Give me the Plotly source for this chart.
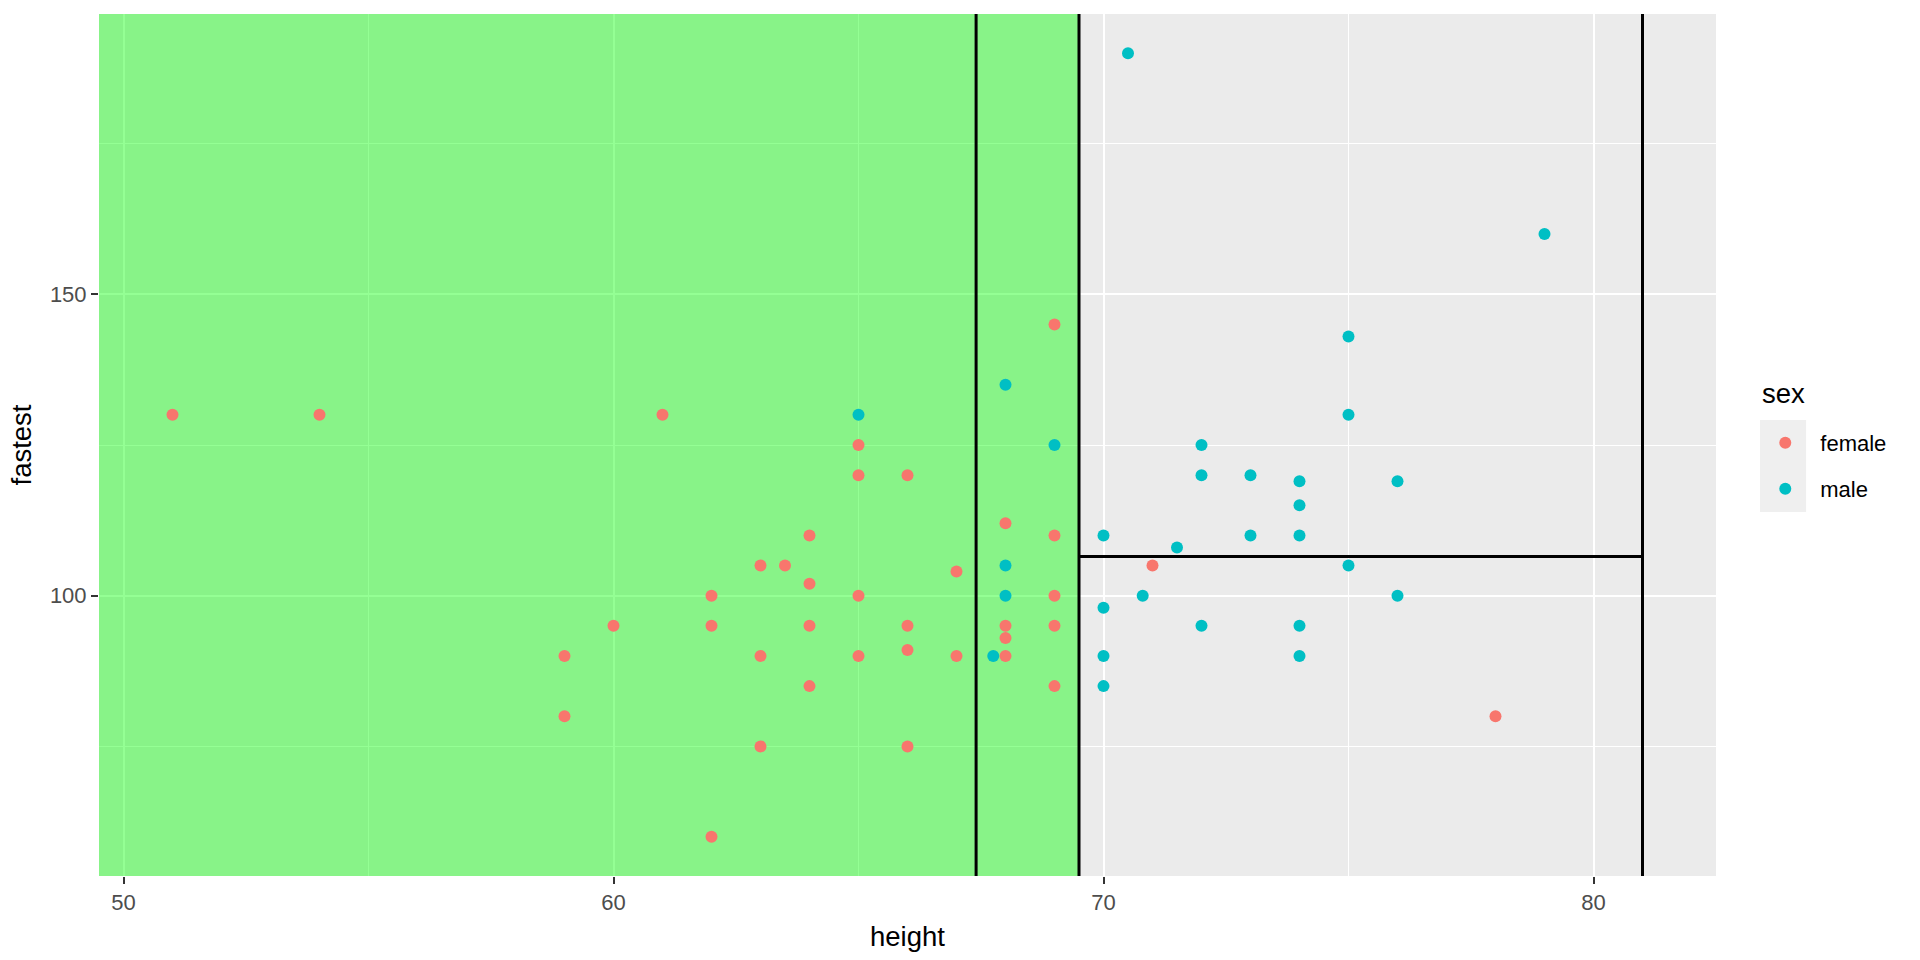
import plotly.graph_objects as go

# ---- data ----
female_height = [51, 54, 61, 69, 65, 65, 66, 68, 64, 69, 63, 63.5, 64, 67, 62, 65, 69, 71,
                 60, 62, 64, 66, 68, 69, 68, 59, 63, 65, 66, 67, 68, 59, 64, 69, 63, 66, 62, 78]
female_fastest = [130, 130, 130, 145, 125, 120, 120, 112, 110, 110, 105, 105, 102, 104, 100, 100, 100, 105,
                  95, 95, 95, 95, 95, 95, 93, 90, 90, 90, 91, 90, 90, 80, 85, 85, 75, 75, 60, 80]
male_height = [65, 68, 69, 68, 68, 67.75, 70.5, 79, 75, 75, 72, 72, 73, 74, 76, 74, 70, 73, 74,
               71.5, 75, 70.8, 76, 70, 72, 74, 70, 74, 70]
male_fastest = [130, 135, 125, 105, 100, 90, 190, 160, 143, 130, 125, 120, 120, 119, 119, 115, 110, 110, 110,
                108, 105, 100, 100, 98, 95, 95, 90, 90, 85]

# partition lines
vsplit_x = [67.4, 69.5, 81.0]
hsplit_y = 106.5
hsplit_x = [69.5, 81.0]
shade_xmax = 69.5

x_range = [49.5, 82.5]
y_range = [53.5, 196.5]

FONT = "Liberation Sans, Arial, Helvetica, sans-serif"
RED = "#F8766D"
TEAL = "#00BFC4"

fig = go.Figure()

# shaded region (drawn as a filled trace so gridlines show faintly through)
fig.add_trace(go.Scatter(
    x=[x_range[0], shade_xmax, shade_xmax, x_range[0], x_range[0]],
    y=[y_range[0], y_range[0], y_range[1], y_range[1], y_range[0]],
    mode="lines", fill="toself", fillcolor="rgba(0,255,0,0.42)",
    line=dict(width=0), hoverinfo="skip", showlegend=False))

# vertical split lines
for vx in vsplit_x:
    fig.add_trace(go.Scatter(x=[vx, vx], y=y_range, mode="lines",
                             line=dict(color="black", width=3), hoverinfo="skip", showlegend=False))
# horizontal split segment
fig.add_trace(go.Scatter(x=hsplit_x, y=[hsplit_y, hsplit_y], mode="lines",
                         line=dict(color="black", width=3), hoverinfo="skip", showlegend=False))

fig.add_trace(go.Scatter(x=female_height, y=female_fastest, mode="markers", name="female",
                         marker=dict(color=RED, size=12, line=dict(width=0)),
                         legend="legend"))
fig.add_trace(go.Scatter(x=male_height, y=male_fastest, mode="markers", name="male",
                         marker=dict(color=TEAL, size=12, line=dict(width=0)),
                         legend="legend2"))

shapes = [dict(type="rect", xref="paper", yref="paper", x0=1.0272, x1=1.0557, y0=0.4223, y1=0.529,
               fillcolor="#EFEFEF", line=dict(width=0), layer="above")]

fig.update_layout(
    width=1920, height=960,
    margin=dict(l=99, r=204, t=14, b=84),
    paper_bgcolor="white",
    plot_bgcolor="#EBEBEB",
    font=dict(family=FONT, color="black"),
    shapes=shapes,
    showlegend=True,
    legend=dict(x=1.0212, xanchor="left", y=0.5023, yanchor="middle", bgcolor="rgba(0,0,0,0)",
                font=dict(size=22, color="black"), itemwidth=60),
    legend2=dict(x=1.0212, xanchor="left", y=0.449, yanchor="middle", bgcolor="rgba(0,0,0,0)",
                 font=dict(size=22, color="black"), itemwidth=60),
    annotations=[dict(text="sex", xref="paper", yref="paper", x=1.0272, y=0.5603, xanchor="left",
                      yanchor="middle", showarrow=False, font=dict(size=27.5, color="black", family=FONT))],
)

fig.update_xaxes(
    range=x_range, tick0=0, dtick=10, showgrid=True, gridcolor="white", gridwidth=2.2,
    minor=dict(tick0=0, dtick=5, showgrid=True, gridcolor="white", gridwidth=1.1),
    ticks="outside", ticklen=7, tickwidth=2, tickcolor="#333333",
    tickfont=dict(size=22, color="#4D4D4D", family=FONT),
    zeroline=False, showline=False,
    title=dict(text="height", font=dict(size=27.5, color="black", family=FONT), standoff=12),
)
fig.update_yaxes(
    range=y_range, tick0=0, dtick=50, showgrid=True, gridcolor="white", gridwidth=2.2,
    minor=dict(tick0=0, dtick=25, showgrid=True, gridcolor="white", gridwidth=1.1),
    ticks="outside", ticklen=7, tickwidth=2, tickcolor="#333333",
    tickfont=dict(size=22, color="#4D4D4D", family=FONT),
    zeroline=False, showline=False,
    title=dict(text="fastest", font=dict(size=27.5, color="black", family=FONT), standoff=10),
)

fig.write_html("out.html")
